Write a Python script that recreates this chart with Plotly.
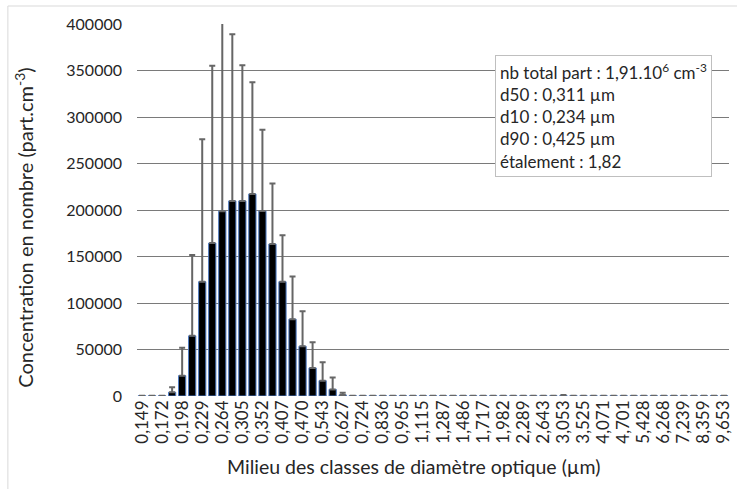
import plotly.graph_objects as go

# Optical diameter class midpoints (µm), 32 classes per decade
diam_labels = [
    "0,149", "0,160", "0,172", "0,185", "0,198", "0,213", "0,229", "0,246",
    "0,264", "0,284", "0,305", "0,328", "0,352", "0,379", "0,407", "0,437",
    "0,470", "0,505", "0,543", "0,583", "0,627", "0,673", "0,724", "0,778",
    "0,836", "0,898", "0,965", "1,037", "1,115", "1,198", "1,287", "1,383",
    "1,486", "1,597", "1,717", "1,845", "1,982", "2,130", "2,289", "2,460",
    "2,643", "2,841", "3,053", "3,280", "3,525", "3,788", "4,071", "4,374",
    "4,701", "5,051", "5,428", "5,833", "6,268", "6,736", "7,239", "7,779",
    "8,359", "8,983", "9,653",
]

# Mean number concentration per class (part.cm-3)
concentration = [
    400, 400, 400, 4000, 21900, 64700, 122900, 164500,
    198700, 209800, 209800, 217300, 198800, 163400, 122900, 82600,
    53500, 30200, 16500, 7100, 1200, 400, 400, 400,
    400, 400, 400, 400, 400, 400, 400, 400,
    400, 400, 400, 400, 400, 400, 400, 400,
    400, 400, 600, 400, 400, 400, 400, 400,
    400, 400, 400, 400, 400, 400, 400, 400,
    400, 400, 400,
]

# Standard deviation per class (upper error bar)
std_dev = [
    0, 0, 0, 5500, 30100, 86900, 153100, 190500,
    230000, 179200, 145900, 120100, 87500, 65100, 49900, 46000,
    37700, 27600, 19700, 12900, 2200, 0, 0, 0,
    0, 0, 0, 0, 0, 0, 0, 0,
    0, 0, 0, 0, 0, 0, 0, 0,
    0, 0, 600, 0, 0, 0, 0, 0,
    0, 0, 0, 0, 0, 0, 0, 0,
    0, 0, 0,
]

stats_lines = [
    "nb total part : 1,91.10<sup>6</sup> cm<sup>-3</sup>",
    "d50 : 0,311 µm",
    "d10 : 0,234 µm",
    "d90 : 0,425 µm",
    "étalement : 1,82",
]

x_title = "Milieu des classes de diamètre optique (µm)"
y_title = "Concentration en nombre (part.cm<sup>-3</sup>)"

FONT = "Lato, Open Sans, sans-serif"
TEXT = "#262626"
W, H = 737, 489
L, R, T, B = 137, 4, 24, 93
pw, ph = W - L - R, H - T - B


def px(x):
    return (x - L) / pw


def py(y):
    return (H - B - y) / ph


fig = go.Figure()
fig.add_trace(go.Bar(
    x=diam_labels,
    y=concentration,
    marker=dict(color="#000000", line=dict(color="#4f7cc4", width=1)),
    error_y=dict(
        type="data", symmetric=False, array=std_dev,
        arrayminus=[0] * len(std_dev),
        color="#666666", thickness=2, width=3,
    ),
))

fig.update_layout(
    width=W, height=H,
    margin=dict(l=L, r=R, t=T, b=B),
    paper_bgcolor="white", plot_bgcolor="white",
    bargap=0.28,
    showlegend=False,
    font=dict(family=FONT, color=TEXT),
    xaxis=dict(
        type="category",
        tickmode="array",
        tickvals=diam_labels[::2],
        ticktext=diam_labels[::2],
        tickangle=-90,
        tickfont=dict(size=17, color=TEXT),
        showgrid=False,
        showline=False,
        ticks="",
    ),
    yaxis=dict(
        range=[0, 400000],
        dtick=50000,
        tickformat="d",
        tickfont=dict(size=16, color=TEXT),
        showgrid=True, gridcolor="#7a7a7a", gridwidth=1.3,
        zeroline=False,
        showline=False,
        ticks="",
        ticklabelstandoff=14,
    ),
    shapes=[dict(
        type="rect", xref="paper", yref="paper",
        x0=px(7), x1=px(760), y0=py(500), y1=py(6),
        line=dict(color="#d9d9d9", width=1), layer="below",
    )],
    annotations=[
        dict(
            xref="paper", yref="paper",
            x=px(497), y=py(55), xanchor="left", yanchor="top",
            text="<br>".join(stats_lines),
            align="left", showarrow=False,
            font=dict(size=17, color=TEXT, family=FONT),
            bgcolor="white", bordercolor="#bfbfbf", borderwidth=1, borderpad=4,
        ),
        dict(
            xref="paper", yref="paper",
            x=px(415), y=py(466), xanchor="center", yanchor="middle",
            text=x_title, showarrow=False,
            font=dict(size=19.5, color=TEXT, family=FONT),
        ),
        dict(
            xref="paper", yref="paper",
            x=px(23), y=py(228), xanchor="center", yanchor="middle",
            text=y_title, textangle=-90, showarrow=False,
            font=dict(size=20, color=TEXT, family=FONT),
        ),
    ],
)

fig.write_html("out.html")
